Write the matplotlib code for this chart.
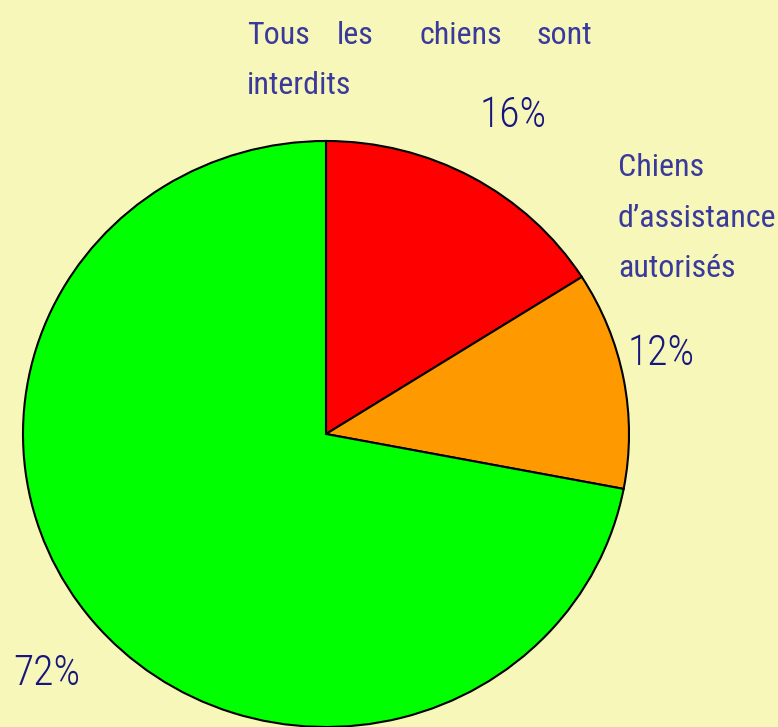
import matplotlib
matplotlib.use("Agg")
import matplotlib.pyplot as plt
from matplotlib import font_manager
from matplotlib.font_manager import FontProperties

# data
categories = ["Tous les chiens sont interdits", "Chiens d\u2019assistance autorisés", "Autres"]
values = [16, 12, 72]
pct_labels = ["16%", "12%", "72%"]
colors = ["#ff0000", "#ff9900", "#00ff00"]

BG = "#f6f7b9"
LABEL_C = "#3a3a9c"
PCT_C = "#16167e"

# look for condensed / narrow faces
def is_cond(f):
    key = (f.name + " " + f.fname).lower()
    return ("condensed" in key or "narrow" in key or str(f.stretch) in
            ("condensed", "semi-condensed", "extra-condensed", "ultra-condensed"))
heavy = ("bold", "medium", "thin", "black", "semibold", "extrabold")
regular, light = [], []
for f in font_manager.fontManager.ttflist:
    if not is_cond(f) or f.style != "normal":
        continue
    k = (f.name + " " + f.fname).lower()
    base = k.split("/")[-1]
    if any(h in base for h in heavy):
        continue
    if "light" in base and "extralight" not in base:
        light.append(f)
    elif "light" not in base:
        regular.append(f)
def rank(f):
    k = (f.name + " " + f.fname).lower()
    if "roboto" in k: return 0
    if "narrow" in k: return 1
    return 3
regular.sort(key=rank)
light.sort(key=rank)
FP = FontProperties(fname=regular[0].fname) if regular else FontProperties(family="DejaVu Sans")
FPL = FontProperties(fname=light[0].fname) if light else FP

W, H = 778, 727
fig = plt.figure(figsize=(W / 100, H / 100), dpi=100, facecolor=BG)
ax = fig.add_axes([0, 0, 1, 1])
ax.set_facecolor(BG)

RX, RY = 303.0, 293.0
sy = RX / RY
ax.pie(values, startangle=90, counterclock=False, colors=colors,
       center=(326, (H - 434) * sy), radius=RX, frame=True,
       wedgeprops=dict(edgecolor="black", linewidth=1.5))
ax.set_xlim(0, W)
ax.set_ylim(0, H * sy)
ax.set_aspect("auto")
ax.axis("off")

# overlay axes in pixel coordinates for text
tx = fig.add_axes([0, 0, 1, 1], facecolor="none")
tx.set_xlim(0, W)
tx.set_ylim(H, 0)
tx.axis("off")

renderer = fig.canvas.get_renderer()
def fit_size(s, width_px, fp):
    t = tx.text(0, 0, s, fontproperties=fp, fontsize=20)
    w = t.get_window_extent(renderer).width
    t.remove()
    return 20 * width_px / w

lab_size = min(fit_size("interdits", 104, FP), 32)
pct_size = min(fit_size("16%", 67, FPL), 38)

def lab(x, y, s, ha="left"):
    tx.text(x, y, s, ha=ha, va="baseline", fontproperties=FP,
            fontsize=lab_size, color=LABEL_C)

def pct(x, y, s):
    tx.text(x, y, s, ha="left", va="baseline", fontproperties=FPL,
            fontsize=pct_size, color=PCT_C)

# label 1: justified first line
words = categories[0].split()
for w, x, ha in zip(words[:4], [247, 337, 420, 592], ["left", "left", "left", "right"]):
    lab(x, 44, w, ha)
lab(247, 94, " ".join(words[4:]))

# label 2
w2 = categories[1].split()
for w, y in zip(w2, [176, 227, 277]):
    lab(618, y, w)

# percentages
pct(480, 127, pct_labels[0])
pct(628, 365, pct_labels[1])
pct(13, 685, pct_labels[2])

fig.savefig("out.png", dpi=100, facecolor=BG)
